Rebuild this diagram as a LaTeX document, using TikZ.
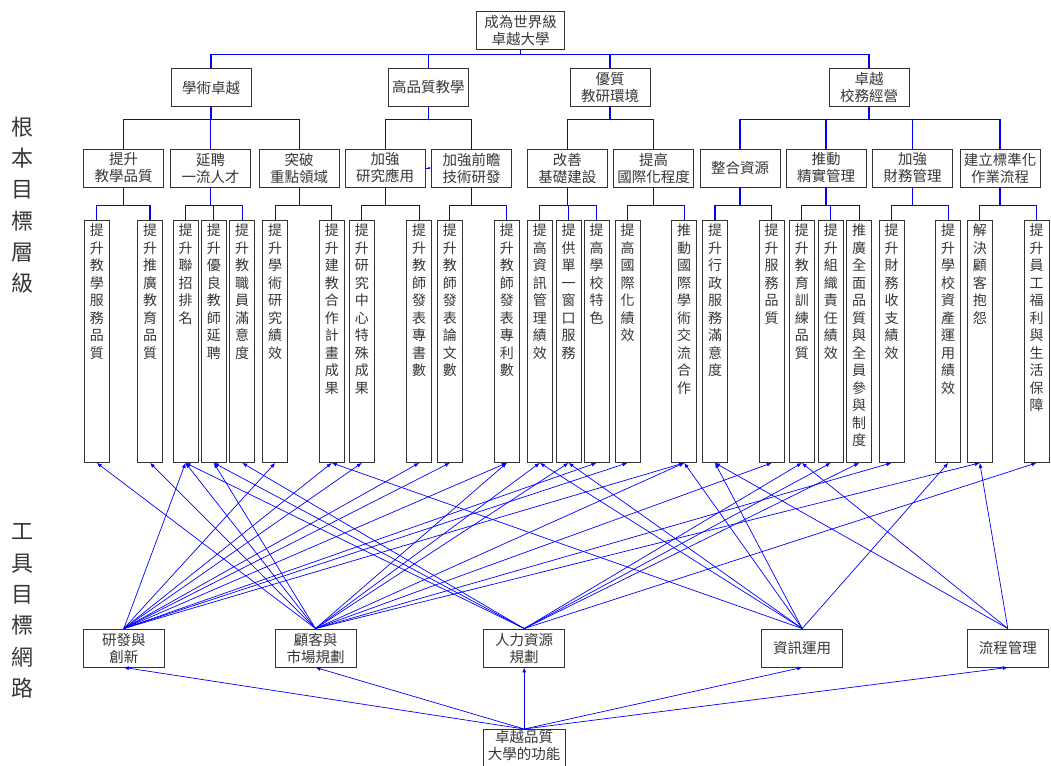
\documentclass[tikz,border=0pt]{standalone}
\usepackage{fontspec}
\setmainfont{Noto Sans CJK TC}
\usetikzlibrary{arrows.meta}
\definecolor{lnblue}{RGB}{0,0,255}
\definecolor{txtgray}{RGB}{55,55,55}
\makeatletter
\newcommand\vtxt[1]{\parbox[t]{16pt}{\centering\fontsize{14}{17.5}\selectfont\@tfor\vt@c:=#1\do{\vt@c\par}}}
\makeatother
\begin{document}
\begin{tikzpicture}[x=1pt,y=-1pt,
  box/.style={draw=black!80, line width=0.9pt, minimum width=80pt, minimum height=38pt, inner sep=1pt, align=center, font=\fontsize{14.5}{17}\selectfont, text=txtgray},
  colbox/.style={draw=black!80, line width=0.9pt, minimum width=25pt, minimum height=242pt, inner sep=0pt, anchor=north},
  coltxt/.style={anchor=north, inner sep=0pt, text=txtgray},
  tree/.style={draw=lnblue, line width=1.1pt},
  link/.style={draw=lnblue, line width=0.7pt, -{Latex[length=5pt,width=4pt]}},
  side/.style={font=\fontsize{22}{31.3}\selectfont, align=center, inner sep=0pt, text=txtgray}
]
\useasboundingbox (0,0) rectangle (1051,765);
% side labels
\node[side] (lab1) at (22,205) {根\\本\\目\\標\\層\\級};
\node[side] (lab2) at (22,611) {工\\具\\目\\標\\網\\路};
% top
\node[box, minimum width=88pt] (top) at (520.5,30) {成為世界級\\卓越大學};
% level 1
\node[box] (a1) at (211,87.5) {學術卓越};
\node[box] (a2) at (428.3,87.5) {高品質教學};
\node[box] (a3) at (610,87.5) {優質\\教研環境};
\node[box] (a4) at (869,87.5) {卓越\\校務經營};
% level 2
\node[box] (b1) at (123.7,168) {提升\\教學品質};
\node[box] (b2) at (210.7,168) {延聘\\一流人才};
\node[box] (b3) at (299.2,168) {突破\\重點領域};
\node[box] (b4) at (385.2,168) {加強\\研究應用};
\node[box] (b5) at (471.7,168) {加強前瞻\\技術研發};
\node[box] (b6) at (567.3,168) {改善\\基礎建設};
\node[box] (b7) at (653.5,168) {提高\\國際化程度};
\node[box] (b8) at (740,168) {整合資源};
\node[box] (b9) at (826,168) {推動\\精實管理};
\node[box] (b10) at (912.7,168) {加強\\財務管理};
\node[box] (b11) at (1000,168) {建立標準化\\作業流程};
% columns
\foreach \n/\x in {1/96.8,2/150,3/185.5,4/213.8,5/242.2,6/275.2,7/331.8,8/361.8,9/419.2,10/449.8,11/506.8,12/539.8,13/568.5,14/596.5,15/627.5,16/684.2,17/715,18/771.7,19/801.8,20/830.8,21/859.2,22/891.5,23/948.2,24/979.8,25/1036.5}
  {\node[colbox] (c\n) at (\x,220) {};}
\node[coltxt] (t1) at (96.8,224) {\vtxt{提升教學服務品質}};
\node[coltxt] (t2) at (150,224) {\vtxt{提升推廣教育品質}};
\node[coltxt] (t3) at (185.5,224) {\vtxt{提升聯招排名}};
\node[coltxt] (t4) at (213.8,224) {\vtxt{提升優良教師延聘}};
\node[coltxt] (t5) at (242.2,224) {\vtxt{提升教職員滿意度}};
\node[coltxt] (t6) at (275.2,224) {\vtxt{提升學術研究績效}};
\node[coltxt] (t7) at (331.8,224) {\vtxt{提升建教合作計畫成果}};
\node[coltxt] (t8) at (361.8,224) {\vtxt{提升研究中心特殊成果}};
\node[coltxt] (t9) at (419.2,224) {\vtxt{提升教師發表專書數}};
\node[coltxt] (t10) at (449.8,224) {\vtxt{提升教師發表論文數}};
\node[coltxt] (t11) at (506.8,224) {\vtxt{提升教師發表專利數}};
\node[coltxt] (t12) at (539.8,224) {\vtxt{提高資訊管理績效}};
\node[coltxt] (t13) at (568.5,224) {\vtxt{提供單一窗口服務}};
\node[coltxt] (t14) at (596.5,224) {\vtxt{提高學校特色}};
\node[coltxt] (t15) at (627.5,224) {\vtxt{提高國際化績效}};
\node[coltxt] (t16) at (684.2,224) {\vtxt{推動國際學術交流合作}};
\node[coltxt] (t17) at (715,224) {\vtxt{提升行政服務滿意度}};
\node[coltxt] (t18) at (771.7,224) {\vtxt{提升服務品質}};
\node[coltxt] (t19) at (801.8,224) {\vtxt{提升教育訓練品質}};
\node[coltxt] (t20) at (830.8,224) {\vtxt{提升組織責任績效}};
\node[coltxt] (t21) at (859.2,224) {\vtxt{推廣全面品質與全員參與制度}};
\node[coltxt] (t22) at (891.5,224) {\vtxt{提升財務收支績效}};
\node[coltxt] (t23) at (948.2,224) {\vtxt{提升學校資產運用績效}};
\node[coltxt] (t24) at (979.8,224) {\vtxt{解決顧客抱怨}};
\node[coltxt] (t25) at (1036.5,224) {\vtxt{提升員工福利與生活保障}};
% tools
\node[box, minimum width=81pt] (tR) at (123.8,648) {研發與\\創新};
\node[box, minimum width=81pt] (tC) at (315.5,648) {顧客與\\市場規劃};
\node[box, minimum width=81pt] (tH) at (524.2,648) {人力資源\\規劃};
\node[box, minimum width=81pt] (tI) at (802.2,648) {資訊運用};
\node[box, minimum width=81pt] (tP) at (1007.8,648) {流程管理};
\node[box, minimum width=82pt, minimum height=44pt, anchor=north] (base) at (524.2,729) {卓越品質\\大學的功能\\[4pt]};
% tree connectors
\foreach \c in {a1,a2,a3,a4} {\draw[tree] (top.south) -- ++(0,5.3) -| (\c.north);}
\foreach \p/\c in {a1/b1,a1/b2,a1/b3,a2/b4,a2/b5,a3/b6,a3/b7,a4/b8,a4/b9,a4/b10,a4/b11}
  {\draw[tree] (\p.south) -- ++(0,12.6) -| (\c.north);}
\foreach \p/\c in {b1/c1,b1/c2,b2/c3,b2/c4,b2/c5,b3/c6,b3/c7,b4/c8,b4/c9,b5/c10,b5/c11,b6/c12,b6/c13,b6/c14,b7/c15,b7/c16,b8/c17,b8/c18,b9/c19,b9/c20,b9/c21,b10/c22,b10/c23,b11/c24,b11/c25}
  {\draw[tree] (\p.south) -- ++(0,18) -| (\c.north);}
\draw[draw=lnblue, line width=0.6pt, -{Latex[length=3pt,width=2.5pt]}] (b4.east) -- (b5.west);
% tool to goal links
\foreach \s/\c in {tR/c3,tR/c6,tR/c7,tR/c8,tR/c9,tR/c10,tR/c11,tR/c14,tR/c15,tR/c16,
  tC/c1,tC/c2,tC/c3,tC/c4,tC/c11,tC/c12,tC/c13,tC/c16,tC/c18,tC/c22,tC/c24,
  tH/c3,tH/c4,tH/c5,tH/c19,tH/c20,tH/c21,tH/c25,
  tI/c7,tI/c12,tI/c13,tI/c16,tI/c17,tI/c23,
  tP/c17,tP/c19,tP/c24}
  {\draw[link] (\s.north) -- (\c.south);}
\foreach \t in {tR,tC,tH,tI,tP} {\draw[link] (base.north) -- (\t.south);}
\end{tikzpicture}
\end{document}
